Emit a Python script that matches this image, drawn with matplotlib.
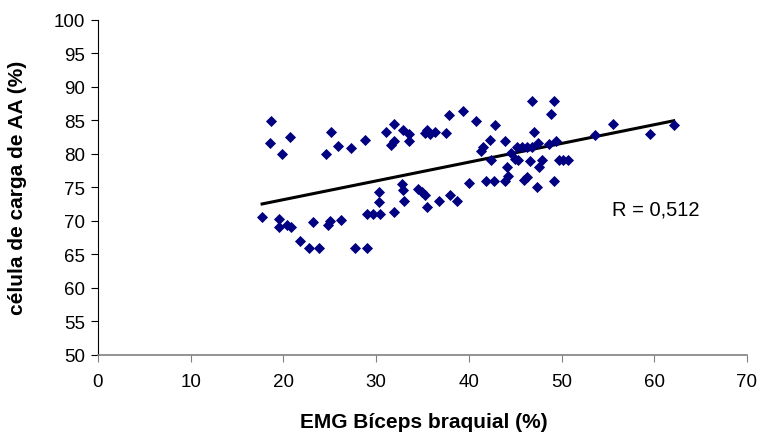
import numpy as np
import matplotlib.pyplot as plt

plt.rcParams['font.family'] = ['Liberation Sans', 'DejaVu Sans']

# EMG biceps braquial (%) vs celula de carga de AA (%)
emg = [18.7, 18.5, 20.7, 19.8, 25.1, 24.6, 25.9, 27.3, 28.8, 31.9,
       31.1, 31.9, 31.6, 32.9, 33.5, 33.5, 35.5, 35.3, 35.8, 36.4,
       37.5, 37.9, 39.4, 40.8, 42.8, 42.3, 43.9, 41.5, 41.3, 42.4,
       45.2, 45.7, 46.3, 46.8, 47.5, 48.6, 49.4, 47.0, 46.8, 49.2,
       48.9, 44.6, 45.0, 45.3, 46.6, 47.9, 47.6, 49.7, 50.2, 50.7,
       44.1, 44.2, 43.9, 41.9, 42.7, 46.3, 45.9, 49.2, 47.4, 40.0,
       38.0, 38.7, 53.6, 55.6, 59.5, 62.1,
       17.7, 19.5, 19.5, 20.4, 20.8, 21.8, 22.8, 23.8, 23.2, 24.8,
       25.0, 26.2, 27.7, 29.0, 29.0, 29.7, 30.4, 30.3, 30.3, 31.9,
       32.8, 32.9, 33.0, 34.5, 34.9, 35.3, 35.5, 36.8]
carga = [84.9, 81.6, 82.5, 79.9, 83.3, 79.9, 81.1, 80.8, 82.1, 84.5,
         83.3, 81.9, 81.3, 83.6, 82.9, 81.9, 83.6, 83.1, 82.9, 83.2,
         83.1, 85.8, 86.4, 84.9, 84.3, 82.0, 81.9, 81.0, 80.4, 79.1,
         81.0, 81.0, 81.0, 81.0, 81.6, 81.5, 81.9, 83.3, 87.9, 87.9,
         85.9, 80.1, 79.2, 79.0, 78.9, 79.0, 78.0, 79.0, 79.0, 79.0,
         78.0, 76.7, 76.0, 76.0, 76.0, 76.6, 76.1, 76.0, 75.0, 75.7,
         73.8, 73.0, 82.8, 84.5, 83.0, 84.3,
         70.6, 70.3, 69.1, 69.3, 69.1, 66.9, 65.9, 65.9, 69.8, 69.3,
         70.0, 70.1, 65.9, 65.9, 71.0, 71.0, 71.0, 74.3, 72.8, 71.3,
         75.5, 74.6, 73.0, 74.8, 74.3, 73.8, 72.1, 73.0]

# trend line as drawn in the original chart
trend_slope = 0.2797
trend_intercept = 67.55

x_ticks = [0, 10, 20, 30, 40, 50, 60, 70]
y_ticks = [50, 55, 60, 65, 70, 75, 80, 85, 90, 95, 100]

fig = plt.figure(figsize=(7.62, 4.39), dpi=100)
ax = fig.add_axes([0.1286, 0.1897, 0.8517, 0.7631])

ax.scatter(emg, carga, marker='D', s=32, color='#000080', linewidths=0, zorder=3)

xl = np.array([min(emg), max(emg)])
ax.plot(xl, trend_slope * xl + trend_intercept, color='black', lw=2.2, zorder=2)

ax.text(55.4, 71.7, 'R = 0,512', fontsize=14.5, va='center')

ax.set_xlim(0, 70)
ax.set_ylim(50, 100)
ax.set_xticks(x_ticks)
ax.set_yticks(y_ticks)
ax.tick_params(labelsize=13.5, length=5, width=0.8, direction='out')
ax.tick_params(axis='y', pad=4)
ax.tick_params(axis='x', colors='#808080', labelcolor='black', pad=8)

for s in ['top', 'right']:
    ax.spines[s].set_visible(False)
ax.spines['bottom'].set_color('#808080')
ax.spines['bottom'].set_linewidth(1.2)
ax.spines['left'].set_linewidth(0.8)

fig.text(424 / 762, 1 - 423 / 439, 'EMG Bíceps braquial (%)', fontsize=15,
         fontweight='bold', ha='center', va='center')
fig.text(18 / 762, 1 - 188 / 439, 'célula de carga de AA (%)', fontsize=15,
         fontweight='bold', ha='center', va='center', rotation=90)

fig.savefig('out.png', dpi=100)
